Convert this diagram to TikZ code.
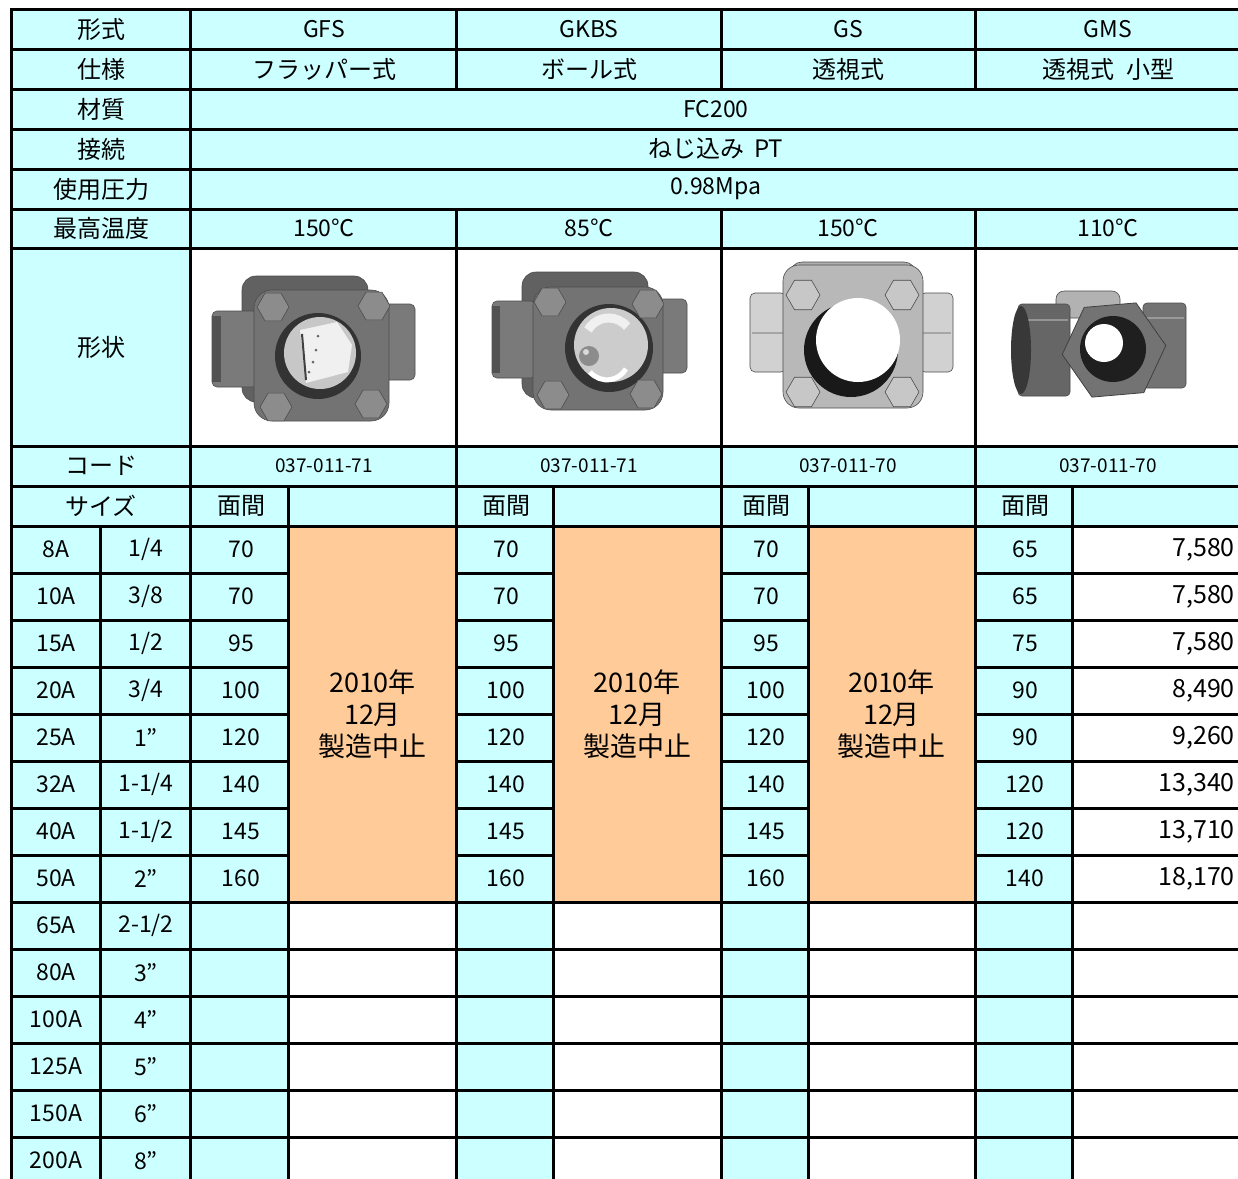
\documentclass[tikz,border=0pt]{standalone}
\usepackage{fontspec}
\setmainfont{Noto Sans CJK JP}
\usetikzlibrary{shapes.geometric}
\definecolor{cy}{HTML}{CCFFFF}
\definecolor{og}{HTML}{FFCC99}
\begin{document}
\begin{tikzpicture}[x=1pt,y=-1pt,
  grid/.style={line width=3pt},
  lab/.style={font=\fontsize{24}{28}\selectfont, inner sep=0pt},
  hd/.style={font=\fontsize{23}{27}\selectfont, inner sep=0pt},
  num/.style={font=\fontsize{23}{27}\selectfont, inner sep=0pt},
  pricetxt/.style={font=\fontsize{25}{29}\selectfont, inner sep=0pt, anchor=east},
  codetxt/.style={font=\fontsize{19}{23}\selectfont, inner sep=0pt},
  stoptxt/.style={font=\fontsize{27}{32}\selectfont, align=center, inner sep=0pt},
  bolt/.style={regular polygon, regular polygon sides=6, minimum size=#1, draw=black!70, line width=0.6pt, inner sep=0pt},
  metal/.style={fill=#1, draw=black!70, line width=0.6pt}]
\useasboundingbox (0,0) rectangle (1238,1178);
\clip (0,0) rectangle (1238,1178);
\fill[white] (0,0) rectangle (1238,1178);
% ---------- fills ----------
\fill[cy] (11,9.5) rectangle (1250,1190);
\fill[white] (190,248) rectangle (1250,446);
\foreach \a/\b in {288.5/456.5,553/721,808/975}{
  \fill[og] (\a,526) rectangle (\b,902);
  \fill[white] (\a,902) rectangle (\b,1190);
}
\fill[white] (1072,526) rectangle (1250,1190);
% ---------- devices ----------
% GFS
\draw[metal=black!62, rounded corners=14pt] (242,276) rectangle (368,402);
\draw[metal=black!52, rounded corners=5pt] (212,311) rectangle (258,387);
\fill[black!68] (212,316) rectangle (221,382);
\draw[metal=black!52, rounded corners=5pt] (384,304) rectangle (415,380);
\draw[metal=black!55, rounded corners=18pt] (254,290) rectangle (389,421);
\fill[black!80] (318,356) circle[radius=43pt];
\fill[black!22] (320,353) circle[radius=36pt];
\fill[black!6] (300,330) -- (337,322) -- (352,345) -- (348,372) -- (306,383) -- cycle;
\draw[black!75, line width=2pt] (302,334) -- (306,380);
\foreach \p in {(318,336),(316,350),(313,362),(309,372)} \fill[black!60] \p circle[radius=1.5pt];
\node[bolt=32pt, fill=black!45] (b1a) at (273,307) {};
\node[bolt=32pt, fill=black!45] (b1b) at (374,306) {};
\node[bolt=32pt, fill=black!45] (b1c) at (276,407) {};
\node[bolt=32pt, fill=black!45] (b1d) at (371,404) {};
% GKBS
\draw[metal=black!62, rounded corners=14pt] (522,272) rectangle (648,398);
\draw[metal=black!52, rounded corners=5pt] (492,301) rectangle (536,378);
\fill[black!68] (492,306) rectangle (500,373);
\draw[metal=black!52, rounded corners=5pt] (656,299) rectangle (687,373);
\draw[metal=black!55, rounded corners=18pt] (533,287) rectangle (663,410);
\fill[black!80] (609,348) circle[radius=44pt];
\fill[black!20] (611,345) circle[radius=37pt];
\draw[white, line width=5pt] (590,372) arc[start angle=220, end angle=330, radius=22pt];
\draw[black!6, line width=9pt] (588,330) arc[start angle=150, end angle=40, radius=24pt];
\fill[black!45] (589,356) circle[radius=10pt];
\fill[black!15] (586,352) circle[radius=3pt];
\node[bolt=32pt, fill=black!45] (b2a) at (550,302) {};
\node[bolt=32pt, fill=black!45] (b2b) at (648,304) {};
\node[bolt=32pt, fill=black!45] (b2c) at (553,395) {};
\node[bolt=32pt, fill=black!45] (b2d) at (646,394) {};
% GS
\draw[metal=black!32, rounded corners=12pt] (790,262) rectangle (916,300);
\draw[metal=black!18, rounded corners=5pt] (750,293) rectangle (786,372);
\draw[metal=black!18, rounded corners=5pt] (920,293) rectangle (953,372);
\draw[black!35, line width=1.5pt] (752,333) -- (784,333) (922,333) -- (951,333);
\draw[metal=black!28, rounded corners=16pt] (783,265) rectangle (923,408);
\fill[black!90] (851,350) circle[radius=47pt];
\fill[white] (858,340) circle[radius=42pt];
\node[bolt=34pt, fill=black!22] (b3a) at (803,295) {};
\node[bolt=34pt, fill=black!22] (b3b) at (902,295) {};
\node[bolt=34pt, fill=black!22] (b3c) at (803,392) {};
\node[bolt=34pt, fill=black!22] (b3d) at (902,392) {};
% GMS
\draw[metal=black!30, rounded corners=8pt] (1056,291) rectangle (1120,318);
\draw[metal=black!55, rounded corners=4pt] (1143,303) rectangle (1186,388);
\draw[black!40, line width=2pt] (1145,318) -- (1184,318);
\draw[metal=black!60, rounded corners=4pt] (1018,304) rectangle (1070,396);
\draw[black!42, line width=2pt] (1026,320) -- (1068,320);
\fill[black!78] (1021,350) ellipse[x radius=10pt, y radius=44pt];
\filldraw[fill=black!55, draw=black!75, line width=0.8pt] (1165.8,345.5) -- (1143.8,392.6) -- (1092.0,397.1) -- (1062.2,354.5) -- (1084.2,307.4) -- (1136.0,302.9) -- cycle;
\fill[black!88] (1113,349) circle[radius=33pt];
\fill[white] (1104,343) circle[radius=19pt];
% ---------- grid ----------
\foreach \y in {9.5,49,89,129,169,209,248,446,486,526,902,949,996,1043,1090,1137}
  \draw[grid] (9.5,\y) -- (1250,\y);
\foreach \y in {573,620,667,714,761,808,855}{
  \draw[grid] (9.5,\y) -- (288.5,\y);
  \draw[grid] (456.5,\y) -- (553,\y);
  \draw[grid] (721,\y) -- (808,\y);
  \draw[grid] (975,\y) -- (1250,\y);
}
\draw[grid] (11,8) -- (11,1190);
\draw[grid] (190,8) -- (190,1190);
\draw[grid] (100,526) -- (100,1190);
\foreach \x in {288.5,553,808,1072} \draw[grid] (\x,486) -- (\x,1190);
\foreach \x in {456.5,721,975}{
  \draw[grid] (\x,8) -- (\x,89);
  \draw[grid] (\x,209) -- (\x,1190);
}
% ---------- texts ----------
\node[lab] (l1) at (101,29) {形式};
\node[lab] (l2) at (101,69) {仕様};
\node[lab] (l3) at (101,109) {材質};
\node[lab] (l4) at (101,149) {接続};
\node[lab] (l5) at (101,189) {使用圧力};
\node[lab] (l6) at (101,228) {最高温度};
\node[lab] (l7) at (101,347) {形状};
\node[lab] (l8) at (101,466) {コード};
\node[lab] (l9) at (101,506) {サイズ};
\node[hd] (t1) at (324,29) {GFS};
\node[hd] (t2) at (589,29) {GKBS};
\node[hd] (t3) at (848,29) {GS};
\node[hd] (t4) at (1108,29) {GMS};
\node[lab] (s1) at (324,69) {フラッパー式};
\node[lab] (s2) at (589,69) {ボール式};
\node[lab] (s3) at (848,69) {透視式};
\node[lab] (s4) at (1108,69) {透視式\hspace{0.5em}小型};
\node[hd] (m1) at (716,109) {FC200};
\node[lab] (c1) at (716,149) {ねじ込み\hspace{0.4em}PT};
\node[hd] (p1) at (716,189) {0.98Mpa};
\node[hd] (e1) at (324,228) {150℃};
\node[hd] (e2) at (589,228) {85℃};
\node[hd] (e3) at (848,228) {150℃};
\node[hd] (e4) at (1108,228) {110℃};
\node[codetxt] (k1) at (324,466) {037-011-71};
\node[codetxt] (k2) at (589,466) {037-011-71};
\node[codetxt] (k3) at (848,466) {037-011-70};
\node[codetxt] (k4) at (1108,466) {037-011-70};
\node[lab] (f1) at (241,506) {面間};
\node[lab] (f2) at (506,506) {面間};
\node[lab] (f3) at (766,506) {面間};
\node[lab] (f4) at (1025,506) {面間};
\foreach \a [count=\i from 0] in {8A,10A,15A,20A,25A,32A,40A,50A,65A,80A,100A,125A,150A,200A}
  \node[num] (sa\i) at (56,549.5+47*\i) {\a};
\foreach \a [count=\i from 0] in {1/4,3/8,1/2,3/4,1”,1-1/4,1-1/2,2”,2-1/2,3”,4”,5”,6”,8”}
  \node[num] (si\i) at (146,549.5+47*\i) {\a};
\foreach \a [count=\i from 0] in {70,70,95,100,120,140,145,160}{
  \node[num] (ga\i) at (241,549.5+47*\i) {\a};
  \node[num] (gb\i) at (506,549.5+47*\i) {\a};
  \node[num] (gc\i) at (766,549.5+47*\i) {\a};
}
\foreach \a/\b [count=\i from 0] in {65/{7,580},65/{7,580},75/{7,580},90/{8,490},90/{9,260},120/{13,340},120/{13,710},140/{18,170}}{
  \node[num] (gd\i) at (1025,549.5+47*\i) {\a};
  \node[pricetxt] (pr\i) at (1235,549.5+47*\i) {\b};
}
\node[stoptxt] (x1) at (372.5,714) {2010年\\12月\\製造中止};
\node[stoptxt] (x2) at (637,714) {2010年\\12月\\製造中止};
\node[stoptxt] (x3) at (891.5,714) {2010年\\12月\\製造中止};
\end{tikzpicture}
\end{document}
